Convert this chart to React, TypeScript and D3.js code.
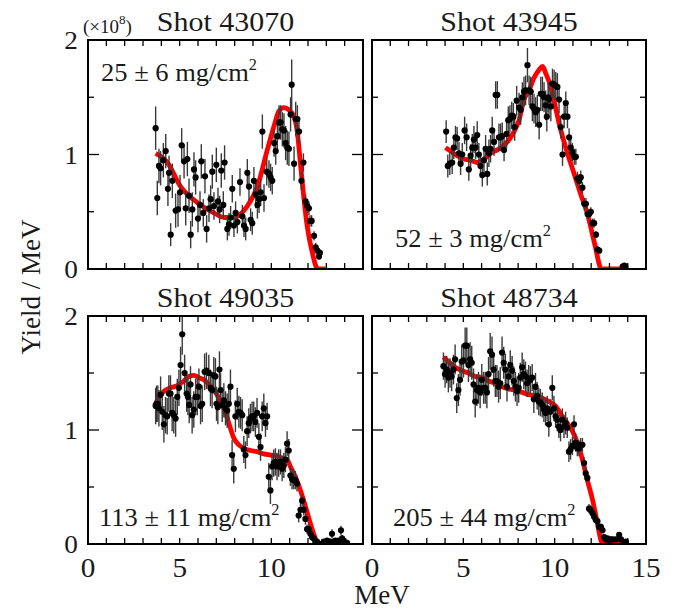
import * as d3 from "d3";

// [MeV, yield (x1e8), error]
const shot43070Points = [
  [3.69, 1.23, 0.19], [3.78, 0.62, 0.15], [3.87, 0.9, 0.15], [3.96, 0.88, 0.15], [4.11, 0.95, 0.15],
  [4.24, 1.03, 0.15], [4.36, 0.7, 0.15], [4.42, 0.84, 0.15], [4.51, 0.3, 0.1], [4.6, 0.77, 0.15],
  [4.78, 0.51, 0.15], [4.91, 0.52, 0.15], [5.02, 0.67, 0.15], [5.11, 1.08, 0.15], [5.24, 0.94, 0.15],
  [5.33, 0.53, 0.15], [5.42, 0.96, 0.15], [5.51, 0.64, 0.15], [5.6, 0.3, 0.12], [5.69, 0.52, 0.15],
  [5.78, 0.87, 0.15], [5.87, 0.8, 0.15], [6.0, 0.44, 0.12], [6.11, 0.56, 0.12], [6.18, 0.94, 0.15],
  [6.29, 0.49, 0.12], [6.38, 0.81, 0.15], [6.47, 0.35, 0.12], [6.6, 0.53, 0.12], [6.69, 0.61, 0.12],
  [6.78, 0.85, 0.15], [6.87, 0.55, 0.12], [7.0, 0.91, 0.15], [7.09, 0.59, 0.12], [7.18, 0.52, 0.12],
  [7.27, 0.86, 0.15], [7.38, 0.56, 0.12], [7.45, 0.93, 0.15], [7.6, 0.35, 0.1], [7.69, 0.39, 0.1],
  [7.78, 0.45, 0.1], [7.87, 0.7, 0.12], [7.96, 0.38, 0.1], [8.05, 0.49, 0.1], [8.15, 0.41, 0.1],
  [8.29, 0.76, 0.12], [8.42, 0.46, 0.1], [8.51, 0.38, 0.1], [8.6, 0.35, 0.1], [8.69, 0.84, 0.12],
  [8.78, 0.72, 0.12], [8.87, 0.43, 0.1], [8.96, 0.4, 0.1], [9.05, 0.77, 0.12], [9.15, 0.65, 0.12],
  [9.24, 0.56, 0.12], [9.33, 0.61, 0.12], [9.42, 0.67, 0.12], [9.51, 1.2, 0.15], [9.6, 0.62, 0.12],
  [9.75, 0.85, 0.12], [9.87, 0.83, 0.12], [9.96, 0.8, 0.12], [10.05, 0.77, 0.12], [10.15, 1.1, 0.12],
  [10.24, 1.03, 0.12], [10.33, 1.16, 0.12], [10.42, 1.28, 0.15], [10.51, 1.28, 0.15], [10.6, 1.22, 0.15],
  [10.69, 1.21, 0.15], [10.78, 1.1, 0.15], [10.87, 1.06, 0.15], [10.96, 1.05, 0.15], [11.05, 1.35, 0.15],
  [11.11, 1.61, 0.22], [11.24, 0.92, 0.15], [11.33, 1.31, 0.15], [11.42, 1.31, 0.12], [11.51, 1.2, 0.1],
  [11.64, 0.77, 0.08], [11.75, 0.93, 0.08], [11.87, 0.59, 0.06], [11.96, 0.55, 0.06], [12.05, 0.53, 0.06],
  [12.11, 0.42, 0.05], [12.2, 0.42, 0.05], [12.33, 0.29, 0.04], [12.42, 0.19, 0.04], [12.51, 0.16, 0.04],
  [12.6, 0.11, 0.03], [12.65, 0.14, 0.03],
];
const shot43070Fit = [
  [3.69, 1.01], [4.33, 0.93], [5.05, 0.72], [5.96, 0.58], [6.87, 0.49], [7.42, 0.45], [7.96, 0.45],
  [8.33, 0.48], [8.69, 0.55], [9.24, 0.72], [9.78, 1.04], [10.15, 1.25], [10.42, 1.38], [10.69, 1.41],
  [10.96, 1.39], [11.24, 1.33], [11.42, 1.19], [11.6, 0.9], [11.78, 0.61], [11.96, 0.37], [12.24, 0.14],
  [12.42, 0.03], [12.55, 0], [12.96, 0],
];

const shot43945Points = [
  [4.06, 1.2, 0.1], [4.15, 0.9, 0.1], [4.26, 0.92, 0.1], [4.39, 0.93, 0.1], [4.48, 1.06, 0.1],
  [4.57, 1.15, 0.1], [4.66, 1.14, 0.1], [4.76, 1.01, 0.1], [4.85, 0.92, 0.1], [4.94, 1.0, 0.1],
  [5.07, 1.21, 0.12], [5.18, 1.15, 0.12], [5.3, 0.87, 0.1], [5.4, 0.99, 0.1], [5.49, 1.06, 0.12],
  [5.58, 1.13, 0.12], [5.67, 1.06, 0.1], [5.76, 1.17, 0.12], [5.85, 1.0, 0.1], [5.94, 0.9, 0.1],
  [6.04, 0.82, 0.1], [6.13, 0.95, 0.12], [6.22, 1.05, 0.12], [6.31, 0.83, 0.1], [6.4, 1.01, 0.12],
  [6.49, 1.05, 0.12], [6.58, 1.21, 0.12], [6.68, 1.11, 0.12], [6.77, 1.52, 0.12], [6.86, 1.52, 0.12],
  [6.95, 1.15, 0.12], [7.04, 1.15, 0.12], [7.13, 1.16, 0.12], [7.23, 1.04, 0.1], [7.37, 1.18, 0.12],
  [7.46, 1.3, 0.12], [7.55, 1.31, 0.12], [7.65, 1.34, 0.12], [7.74, 1.33, 0.12], [7.81, 1.24, 0.12],
  [7.92, 1.47, 0.13], [8.05, 1.41, 0.13], [8.14, 1.39, 0.13], [8.23, 1.5, 0.13], [8.32, 1.55, 0.13],
  [8.41, 1.56, 0.13], [8.51, 1.78, 0.15], [8.6, 1.56, 0.13], [8.69, 1.55, 0.13], [8.78, 1.42, 0.13],
  [8.87, 1.4, 0.13], [8.96, 1.37, 0.13], [9.05, 1.39, 0.13], [9.15, 1.26, 0.13], [9.24, 1.53, 0.15],
  [9.33, 1.53, 0.15], [9.42, 1.5, 0.13], [9.51, 1.43, 0.13], [9.57, 1.33, 0.13], [9.64, 1.5, 0.13],
  [9.69, 1.48, 0.13], [9.79, 1.42, 0.13], [9.88, 1.62, 0.13], [9.97, 1.61, 0.13], [10.06, 1.6, 0.12],
  [10.15, 1.59, 0.12], [10.24, 1.48, 0.12], [10.33, 1.24, 0.1], [10.43, 1.0, 0.1], [10.52, 1.33, 0.1],
  [10.61, 1.45, 0.1], [10.7, 1.33, 0.1], [10.79, 1.15, 0.08], [10.88, 1.06, 0.08], [10.97, 1.02, 0.08],
  [11.07, 0.98, 0.07], [11.16, 0.98, 0.07], [11.25, 0.79, 0.06], [11.34, 0.77, 0.06], [11.43, 0.8, 0.06],
  [11.52, 0.71, 0.05], [11.62, 0.57, 0.05], [11.71, 0.57, 0.05], [11.8, 0.48, 0.04], [11.89, 0.48, 0.04],
  [11.98, 0.5, 0.04], [12.07, 0.4, 0.04], [12.16, 0.4, 0.04], [12.26, 0.3, 0.03], [12.35, 0.17, 0.03],
  [12.44, 0.16, 0.02], [13.72, 0.02, 0.02], [13.81, 0.03, 0.02], [13.87, 0.02, 0.02],
];
const shot43945Fit = [
  [4.02, 1.06], [4.3, 1.03], [4.66, 0.99], [5.03, 0.96], [5.4, 0.95], [5.76, 0.93], [6.13, 0.96],
  [6.49, 1.01], [6.86, 1.04], [7.23, 1.08], [7.59, 1.15], [7.87, 1.23], [8.05, 1.3], [8.32, 1.48],
  [8.6, 1.56], [8.87, 1.67], [9.15, 1.74], [9.33, 1.77], [9.51, 1.71], [9.79, 1.59], [10.06, 1.4],
  [10.34, 1.21], [10.7, 1.01], [11.07, 0.83], [11.43, 0.65], [11.8, 0.48], [12.07, 0.3], [12.26, 0.17],
  [12.44, 0.04], [12.53, 0], [13.81, 0],
];

const shot49035Points = [
  [3.69, 1.21, 0.16], [3.74, 1.23, 0.16], [3.81, 1.23, 0.16], [3.87, 1.19, 0.16], [3.96, 1.31, 0.16],
  [4.05, 1.16, 0.16], [4.14, 1.05, 0.16], [4.23, 1.13, 0.16], [4.32, 1.12, 0.16], [4.41, 1.32, 0.16],
  [4.5, 1.32, 0.16], [4.59, 1.15, 0.16], [4.68, 1.13, 0.16], [4.78, 1.1, 0.16], [4.87, 1.29, 0.16],
  [4.96, 1.37, 0.16], [5.05, 1.57, 0.16], [5.14, 1.84, 0.18], [5.27, 1.5, 0.16], [5.38, 1.32, 0.16],
  [5.45, 1.29, 0.16], [5.52, 1.22, 0.16], [5.59, 1.4, 0.16], [5.68, 1.13, 0.16], [5.77, 1.18, 0.16],
  [5.87, 1.29, 0.16], [5.96, 1.29, 0.16], [6.05, 1.38, 0.16], [6.14, 1.21, 0.16], [6.23, 1.23, 0.16],
  [6.36, 1.51, 0.16], [6.46, 1.52, 0.16], [6.59, 1.5, 0.16], [6.68, 1.37, 0.16], [6.77, 1.35, 0.16],
  [6.86, 1.48, 0.16], [6.95, 1.47, 0.16], [7.01, 1.23, 0.15], [7.08, 1.2, 0.15], [7.17, 1.53, 0.16],
  [7.23, 1.35, 0.15], [7.32, 1.22, 0.15], [7.41, 1.26, 0.15], [7.5, 1.19, 0.15], [7.59, 1.17, 0.15],
  [7.68, 1.23, 0.15], [7.77, 1.38, 0.15], [7.86, 0.78, 0.13], [7.95, 0.66, 0.13], [8.04, 1.12, 0.14],
  [8.14, 1.23, 0.14], [8.23, 1.16, 0.14], [8.32, 1.15, 0.14], [8.41, 1.13, 0.14], [8.5, 0.83, 0.12],
  [8.59, 0.78, 0.12], [8.68, 0.99, 0.13], [8.77, 1.06, 0.13], [8.86, 1.1, 0.13], [8.95, 1.12, 0.13],
  [9.04, 1.12, 0.13], [9.13, 1.07, 0.13], [9.22, 1.15, 0.13], [9.32, 0.94, 0.12], [9.41, 0.85, 0.12],
  [9.5, 1.12, 0.13], [9.59, 1.19, 0.13], [9.68, 1.06, 0.12], [9.77, 1.12, 0.12], [9.86, 0.59, 0.12],
  [9.95, 0.47, 0.12], [10.04, 0.68, 0.12], [10.13, 0.71, 0.12], [10.22, 0.72, 0.12], [10.31, 0.68, 0.12],
  [10.4, 0.71, 0.12], [10.5, 0.72, 0.11], [10.59, 0.66, 0.11], [10.68, 0.69, 0.11], [10.77, 0.74, 0.11],
  [10.86, 0.88, 0.11], [10.95, 0.82, 0.1], [11.04, 0.6, 0.09], [11.13, 0.57, 0.09], [11.22, 0.56, 0.08],
  [11.31, 0.56, 0.08], [11.4, 0.53, 0.07], [11.49, 0.25, 0.06], [11.59, 0.3, 0.06], [11.68, 0.38, 0.06],
  [11.77, 0.3, 0.05], [11.86, 0.22, 0.05], [11.95, 0.13, 0.04], [12.04, 0.13, 0.04], [12.13, 0.09, 0.03],
  [12.22, 0.06, 0.03], [12.31, 0.05, 0.03], [12.4, 0.02, 0.02], [12.49, 0.02, 0.02], [12.68, 0.0, 0.02],
  [12.86, 0.02, 0.02], [12.95, 0.01, 0.02], [13.04, 0.03, 0.02], [13.13, 0.02, 0.02], [13.22, 0.02, 0.02],
  [13.31, 0.09, 0.04], [13.4, 0.02, 0.02], [13.49, 0.03, 0.02], [13.58, 0.02, 0.02], [13.67, 0.03, 0.02],
  [13.8, 0.12, 0.04], [13.86, 0.05, 0.03], [13.95, 0.03, 0.02], [14.04, 0.0, 0.02], [14.13, 0.01, 0.02],
];
const shot49035Fit = [
  [3.63, 1.21], [3.78, 1.26], [4.14, 1.34], [4.5, 1.37], [4.87, 1.39], [5.23, 1.43], [5.5, 1.47],
  [5.78, 1.48], [6.05, 1.46], [6.32, 1.44], [6.59, 1.4], [6.87, 1.35], [7.14, 1.28], [7.41, 1.19],
  [7.68, 1.06], [7.95, 0.93], [8.23, 0.87], [8.5, 0.84], [8.86, 0.82], [9.22, 0.81], [9.59, 0.79],
  [9.95, 0.78], [10.31, 0.77], [10.68, 0.75], [10.86, 0.74], [11.04, 0.68], [11.31, 0.59], [11.59, 0.47],
  [11.86, 0.33], [12.13, 0.18], [12.31, 0.09], [12.49, 0.02], [12.67, 0], [14.2, 0],
];

const shot48734Points = [
  [3.91, 1.56, 0.12], [4.0, 1.49, 0.12], [4.09, 1.53, 0.12], [4.18, 1.46, 0.13], [4.27, 1.5, 0.13],
  [4.36, 1.47, 0.13], [4.46, 1.53, 0.13], [4.55, 1.62, 0.13], [4.64, 1.28, 0.13], [4.73, 1.35, 0.14],
  [4.82, 1.44, 0.14], [4.91, 1.6, 0.15], [5.01, 1.61, 0.15], [5.1, 1.74, 0.16], [5.19, 1.74, 0.16],
  [5.28, 1.57, 0.15], [5.37, 1.62, 0.15], [5.46, 1.59, 0.15], [5.56, 1.4, 0.14], [5.65, 1.25, 0.14],
  [5.74, 1.35, 0.14], [5.83, 1.37, 0.14], [5.92, 1.33, 0.14], [6.01, 1.44, 0.14], [6.11, 1.37, 0.14],
  [6.2, 1.37, 0.14], [6.29, 1.33, 0.14], [6.38, 1.49, 0.15], [6.47, 1.69, 0.16], [6.57, 1.66, 0.16],
  [6.66, 1.53, 0.15], [6.75, 1.43, 0.14], [6.84, 1.43, 0.14], [6.93, 1.38, 0.14], [7.02, 1.41, 0.14],
  [7.12, 1.68, 0.14], [7.21, 1.59, 0.14], [7.3, 1.53, 0.14], [7.39, 1.38, 0.13], [7.48, 1.47, 0.13],
  [7.57, 1.57, 0.13], [7.67, 1.52, 0.13], [7.76, 1.43, 0.13], [7.85, 1.38, 0.13], [7.94, 1.34, 0.13],
  [8.03, 1.37, 0.13], [8.12, 1.46, 0.13], [8.22, 1.55, 0.13], [8.31, 1.49, 0.13], [8.4, 1.47, 0.13],
  [8.49, 1.41, 0.12], [8.58, 1.45, 0.12], [8.67, 1.44, 0.12], [8.77, 1.46, 0.12], [8.86, 1.27, 0.12],
  [8.95, 1.38, 0.12], [9.04, 1.3, 0.12], [9.13, 1.25, 0.12], [9.22, 1.24, 0.12], [9.32, 1.22, 0.11],
  [9.41, 1.18, 0.11], [9.5, 1.15, 0.11], [9.59, 1.19, 0.11], [9.68, 1.05, 0.11], [9.77, 1.16, 0.11],
  [9.87, 1.37, 0.11], [9.96, 1.19, 0.11], [10.05, 1.12, 0.1], [10.14, 1.09, 0.1], [10.23, 1.03, 0.1],
  [10.32, 1.0, 0.1], [10.42, 1.09, 0.1], [10.51, 1.03, 0.1], [10.6, 1.06, 0.1], [10.69, 1.02, 0.09],
  [10.78, 0.81, 0.09], [10.87, 0.83, 0.09], [10.97, 0.86, 0.08], [11.06, 1.05, 0.08], [11.15, 0.89, 0.08],
  [11.24, 0.84, 0.07], [11.33, 0.84, 0.07], [11.42, 0.87, 0.06], [11.52, 0.87, 0.06], [11.61, 0.71, 0.05],
  [11.7, 0.62, 0.05], [11.79, 0.58, 0.04], [11.88, 0.31, 0.04], [11.97, 0.3, 0.04], [12.07, 0.27, 0.03],
  [12.16, 0.24, 0.03], [12.25, 0.21, 0.03], [12.34, 0.2, 0.03], [12.43, 0.15, 0.03], [12.53, 0.15, 0.03],
  [12.62, 0.12, 0.02], [12.71, 0.06, 0.02], [12.8, 0.04, 0.02], [12.89, 0.05, 0.02], [12.98, 0.02, 0.02],
  [13.08, 0.04, 0.02], [13.17, 0.04, 0.02], [13.35, 0.04, 0.02], [13.53, 0.08, 0.02], [13.63, 0.04, 0.02],
  [13.81, 0.01, 0.02], [13.9, 0.02, 0.02],
];
const shot48734Fit = [
  [3.91, 1.64], [4.18, 1.6], [4.55, 1.55], [4.91, 1.52], [5.28, 1.5], [5.65, 1.47], [6.01, 1.46],
  [6.38, 1.43], [6.75, 1.41], [7.12, 1.38], [7.48, 1.36], [7.85, 1.35], [8.22, 1.33], [8.58, 1.31],
  [8.95, 1.3], [9.32, 1.28], [9.68, 1.25], [10.05, 1.21], [10.42, 1.12], [10.69, 1.06], [10.97, 0.99],
  [11.24, 0.89], [11.52, 0.74], [11.79, 0.56], [12.07, 0.39], [12.34, 0.18], [12.52, 0.04], [12.62, 0],
  [13.9, 0],
];

const panelTitles = ["Shot 43070", "Shot 43945", "Shot 49035", "Shot 48734"];
const arealDensities = ["25 \u00b1 6 mg/cm", "52 \u00b1 3 mg/cm", "113 \u00b1 11 mg/cm", "205 \u00b1 44 mg/cm"];
const yTickLabels = [0, 1, 2];
const xTickLabelsLeft = [0, 5, 10];
const xTickLabelsRight = [0, 5, 10, 15];

const FONT = "Liberation Serif, Times New Roman, Times, serif";

const panels = [
  { x0: 88, x1: 363, y0: 40, y1: 269, points: shot43070Points, fit: shot43070Fit, note: [101, 81] },
  { x0: 372, x1: 646, y0: 40, y1: 269, points: shot43945Points, fit: shot43945Fit, note: [395, 247] },
  { x0: 88, x1: 363, y0: 316, y1: 544, points: shot49035Points, fit: shot49035Fit, note: [99, 526] },
  { x0: 372, x1: 646, y0: 316, y1: 544, points: shot48734Points, fit: shot48734Fit, note: [393, 526] },
];

function Txt({ x, y, size, anchor = "start", sx = 1, children }: any) {
  return (
    <text transform={`translate(${x},${y}) scale(${sx},1)`} textAnchor={anchor}
      style={{ fontFamily: FONT, fontSize: size }} fill="#1a1a1a">
      {children}
    </text>
  );
}

function Panel({ p, i }: any) {
  const x = d3.scaleLinear().domain([0, 15]).range([p.x0, p.x1]);
  const y = d3.scaleLinear().domain([0, 2]).range([p.y1, p.y0]);
  const line = d3.line<number[]>().x(d => x(d[0])).y(d => y(d[1])).curve(d3.curveMonotoneX);
  const left = i % 2 === 0;
  const bottom = i >= 2;
  const clipId = `clip${i}`;
  return (
    <g>
      <clipPath id={clipId}>
        <rect x={p.x0} y={p.y0} width={p.x1 - p.x0} height={p.y1 - p.y0} />
      </clipPath>
      <g clipPath={`url(#${clipId})`}>
        <path d={line(p.fit) || ""} fill="none" stroke="#ff0000" strokeWidth={4.8} strokeLinejoin="round" />
        {p.points.map((d: number[], k: number) => (
          <line key={"e" + k} x1={x(d[0])} x2={x(d[0])} y1={y(d[1] - d[2])} y2={y(d[1] + d[2])}
            stroke="#3a3a3a" strokeWidth={1.4} />
        ))}
        {p.points.map((d: number[], k: number) => (
          <circle key={"c" + k} cx={x(d[0])} cy={y(d[1])} r={3.1} fill="#000" />
        ))}
      </g>
      {d3.range(1, 15).map(t => (
        <g key={"xt" + t} stroke="#000" strokeWidth={1.3}>
          <line x1={x(t)} x2={x(t)} y1={p.y1} y2={p.y1 - 6} />
          <line x1={x(t)} x2={x(t)} y1={p.y0} y2={p.y0 + 6} />
        </g>
      ))}
      {[0.5, 1, 1.5].map(t => {
        const len = t === 1 ? 11 : 6;
        return (
          <g key={"yt" + t} stroke="#000" strokeWidth={1.3}>
            <line x1={p.x0} x2={p.x0 + len} y1={y(t)} y2={y(t)} />
            <line x1={p.x1} x2={p.x1 - len} y1={y(t)} y2={y(t)} />
          </g>
        );
      })}
      <rect x={p.x0} y={p.y0} width={p.x1 - p.x0} height={p.y1 - p.y0} fill="none" stroke="#000" strokeWidth={2} />
      <Txt x={(p.x0 + p.x1) / 2} y={p.y0 - 9} size={28} sx={1.07} anchor="middle">{panelTitles[i]}</Txt>
      <Txt x={p.note[0]} y={p.note[1]} size={26} sx={1.02}>
        {arealDensities[i]}
        <tspan fontSize={16} dy={-11}>2</tspan>
      </Txt>
      {left && yTickLabels.map(t => (
        <Txt key={"yl" + t} x={78} y={y(t) + 9} size={26} sx={1.05} anchor="end">{t}</Txt>
      ))}
      {bottom && (left ? xTickLabelsLeft : xTickLabelsRight).map(t => (
        <Txt key={"xl" + t} x={x(t)} y={577} size={27} sx={1.08} anchor="middle">{t}</Txt>
      ))}
    </g>
  );
}

export default function App() {
  return (
    <svg width={675} height={611} style={{ position: "absolute", left: 0, top: 0, background: "#fff" }}>
      <rect width={675} height={611} fill="#fff" />
      {panels.map((p, i) => <Panel key={i} p={p} i={i} />)}
      <Txt x={83} y={33} size={19}>
        (×10<tspan fontSize={13} dy={-9}>8</tspan><tspan dy={9}>)</tspan>
      </Txt>
      <text transform="translate(40,287) rotate(-90)" textAnchor="middle"
        style={{ fontFamily: FONT, fontSize: 27 }} fill="#1a1a1a">
        Yield / MeV
      </text>
      <Txt x={382} y={604} size={27} anchor="middle">MeV</Txt>
    </svg>
  );
}
